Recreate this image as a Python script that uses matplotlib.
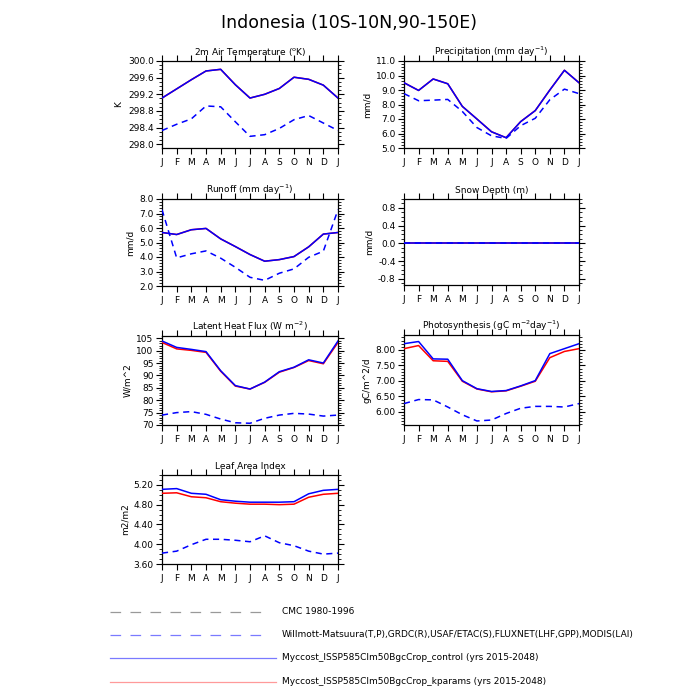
import numpy as np
import matplotlib
matplotlib.use("Agg")
import matplotlib.pyplot as plt
from matplotlib.ticker import MultipleLocator, AutoMinorLocator, FormatStrFormatter
from matplotlib.lines import Line2D

months = ["J", "F", "M", "A", "M", "J", "J", "A", "S", "O", "N", "D", "J"]

# 2m air temperature (K)
tsa_ctl = [299.11, 299.33, 299.55, 299.76, 299.80, 299.43, 299.11, 299.20, 299.34, 299.61, 299.56, 299.42, 299.11]
tsa_kp = [299.11, 299.33, 299.55, 299.76, 299.80, 299.43, 299.11, 299.20, 299.34, 299.61, 299.56, 299.42, 299.11]
tsa_obs = [298.33, 298.48, 298.61, 298.92, 298.90, 298.54, 298.19, 298.23, 298.38, 298.59, 298.69, 298.51, 298.33]

# Precipitation (mm/d)
pr_ctl = [9.50, 8.97, 9.76, 9.43, 7.87, 7.00, 6.12, 5.71, 6.82, 7.58, 9.00, 10.36, 9.50]
pr_kp = [9.50, 8.97, 9.76, 9.43, 7.87, 7.00, 6.12, 5.71, 6.82, 7.58, 9.00, 10.36, 9.50]
pr_obs = [8.75, 8.26, 8.30, 8.35, 7.52, 6.41, 5.84, 5.66, 6.54, 7.05, 8.33, 9.06, 8.75]

# Runoff (mm/d)
ro_ctl = [5.69, 5.55, 5.88, 5.97, 5.25, 4.72, 4.17, 3.71, 3.82, 4.03, 4.70, 5.58, 5.69]
ro_kp = [5.69, 5.55, 5.88, 5.97, 5.25, 4.72, 4.17, 3.71, 3.82, 4.03, 4.70, 5.58, 5.69]
ro_obs = [7.26, 3.94, 4.22, 4.42, 3.92, 3.29, 2.60, 2.39, 2.88, 3.18, 3.98, 4.40, 7.26]

# Snow depth (m)
sd_ctl = [0.0] * 13
sd_kp = [0.0] * 13
sd_obs = [0.0] * 13

# Latent heat flux (W/m^2)
lh_ctl = [103.9, 101.3, 100.5, 99.6, 91.9, 85.9, 84.5, 87.3, 91.5, 93.3, 96.3, 95.0, 103.9]
lh_kp = [103.3, 100.7, 100.1, 99.3, 91.7, 85.7, 84.5, 87.2, 91.3, 93.2, 96.0, 94.7, 103.3]
lh_obs = [74.0, 75.0, 75.4, 74.3, 72.4, 70.9, 70.7, 72.7, 74.0, 74.7, 74.4, 73.6, 74.0]

# Photosynthesis (gC/m^2/d)
gpp_ctl = [8.20, 8.27, 7.71, 7.70, 7.01, 6.75, 6.66, 6.69, 6.84, 7.01, 7.88, 8.04, 8.20]
gpp_kp = [8.04, 8.14, 7.65, 7.63, 6.99, 6.74, 6.65, 6.68, 6.83, 6.99, 7.75, 7.95, 8.04]
gpp_obs = [6.27, 6.40, 6.39, 6.16, 5.91, 5.71, 5.74, 5.95, 6.12, 6.18, 6.18, 6.16, 6.27]

# Leaf area index (m2/m2)
lai_ctl = [5.11, 5.125, 5.03, 5.01, 4.90, 4.87, 4.85, 4.85, 4.85, 4.86, 5.02, 5.09, 5.11]
lai_kp = [5.03, 5.04, 4.96, 4.94, 4.86, 4.83, 4.81, 4.81, 4.80, 4.81, 4.95, 5.01, 5.03]
lai_obs = [3.82, 3.86, 3.99, 4.10, 4.10, 4.08, 4.05, 4.17, 4.03, 3.97, 3.86, 3.80, 3.82]

legend_labels = [
    "CMC 1980-1996",
    "Willmott-Matsuura(T,P),GRDC(R),USAF/ETAC(S),FLUXNET(LHF,GPP),MODIS(LAI)",
    "Myccost_ISSP585Clm50BgcCrop_control (yrs 2015-2048)",
    "Myccost_ISSP585Clm50BgcCrop_kparams (yrs 2015-2048)",
]

panels = [
    dict(title=r"2m Air Temperature ($^{\mathrm{o}}$K)", ylabel="K", ctl=tsa_ctl, kp=tsa_kp, obs=tsa_obs,
         ylim=(297.91, 300.0), major=0.4, minor=4, fmt="%.1f", pos=(162, 61, 338, 148)),
    dict(title=r"Precipitation (mm day$^{\mathrm{-1}}$)", ylabel="mm/d", ctl=pr_ctl, kp=pr_kp, obs=pr_obs,
         ylim=(5.0, 11.0), major=1.0, minor=5, fmt="%.1f", pos=(404, 61, 579, 148)),
    dict(title=r"Runoff (mm day$^{\mathrm{-1}}$)", ylabel="mm/d", ctl=ro_ctl, kp=ro_kp, obs=ro_obs,
         ylim=(2.0, 8.0), major=1.0, minor=5, fmt="%.1f", pos=(162, 199, 338, 286)),
    dict(title="Snow Depth (m)", ylabel="mm/d", ctl=sd_ctl, kp=sd_kp, obs=sd_obs,
         ylim=(-0.94, 1.0), major=0.4, minor=4, fmt="%.1f", pos=(404, 199, 579, 285)),
    dict(title=r"Latent Heat Flux (W m$^{\mathrm{-2}}$)", ylabel="W/m^2", ctl=lh_ctl, kp=lh_kp, obs=lh_obs,
         ylim=(70.0, 105.9), major=5, minor=5, fmt="%d", pos=(162, 336, 338, 425)),
    dict(title=r"Photosynthesis (gC m$^{\mathrm{-2}}$day$^{\mathrm{-1}}$)", ylabel="gC/m^2/d", ctl=gpp_ctl, kp=gpp_kp, obs=gpp_obs,
         ylim=(5.58, 8.48), major=0.5, minor=5, fmt="%.2f", pos=(404, 335, 579, 425)),
    dict(title="Leaf Area Index", ylabel="m2/m2", ctl=lai_ctl, kp=lai_kp, obs=lai_obs,
         ylim=(3.6, 5.4), major=0.4, minor=4, fmt="%.2f", pos=(162, 475, 338, 564)),
]

W = H = 700
fig = plt.figure(figsize=(7, 7), dpi=100)
fig.text(349 / W, 1 - 23 / H, "Indonesia (10S-10N,90-150E)", ha="center", va="center", fontsize=12.5)

x = np.arange(len(months))
for p in panels:
    l, t, r, b = p["pos"]
    ax = fig.add_axes([l / W, 1 - b / H, (r - l) / W, (b - t) / H])
    ax.plot(x, p["kp"], color="red", lw=1.1, zorder=3)
    ax.plot(x, p["ctl"], color="blue", lw=1.1, zorder=4)
    ax.plot(x, p["obs"], color="blue", lw=1.1, ls=(0, (4, 3)), zorder=5)
    ax.set_xlim(0, len(months) - 1)
    ax.set_ylim(*p["ylim"])
    ax.set_xticks(x)
    ax.set_xticklabels(months)
    ax.yaxis.set_major_locator(MultipleLocator(p["major"]))
    ax.yaxis.set_minor_locator(AutoMinorLocator(p["minor"]))
    ax.yaxis.set_major_formatter(FormatStrFormatter(p["fmt"]))
    ax.tick_params(axis="both", which="major", direction="out", length=4, width=0.8,
                   labelsize=6.5, top=True, right=True, pad=2)
    ax.tick_params(axis="y", which="minor", direction="out", length=2, width=0.6, right=True)
    ax.tick_params(axis="x", which="major", pad=3)
    for s in ax.spines.values():
        s.set_linewidth(0.9)
    ax.set_title(p["title"], fontsize=6.5, pad=4.5)
    ax.set_ylabel(p["ylabel"], fontsize=6.5, labelpad=3)

# legend
leg_y = [612, 635, 658, 682]
styles = [
    dict(color="#999999", ls=(0, (8.5, 7.5)), x1=265),
    dict(color="#7a7aff", ls=(0, (8.5, 7.5)), x1=265),
    dict(color="#7a7aff", ls="-", x1=276),
    dict(color="#ff9a9a", ls="-", x1=276),
]
for yy, st, lab in zip(leg_y, styles, legend_labels):
    fig.add_artist(Line2D([110 / W, st["x1"] / W], [1 - yy / H, 1 - yy / H], color=st["color"],
                          ls=st["ls"], lw=0.9, transform=fig.transFigure))
    fig.text(282 / W, 1 - yy / H, lab, ha="left", va="center", fontsize=6.5)

fig.savefig("out.png", dpi=100)
